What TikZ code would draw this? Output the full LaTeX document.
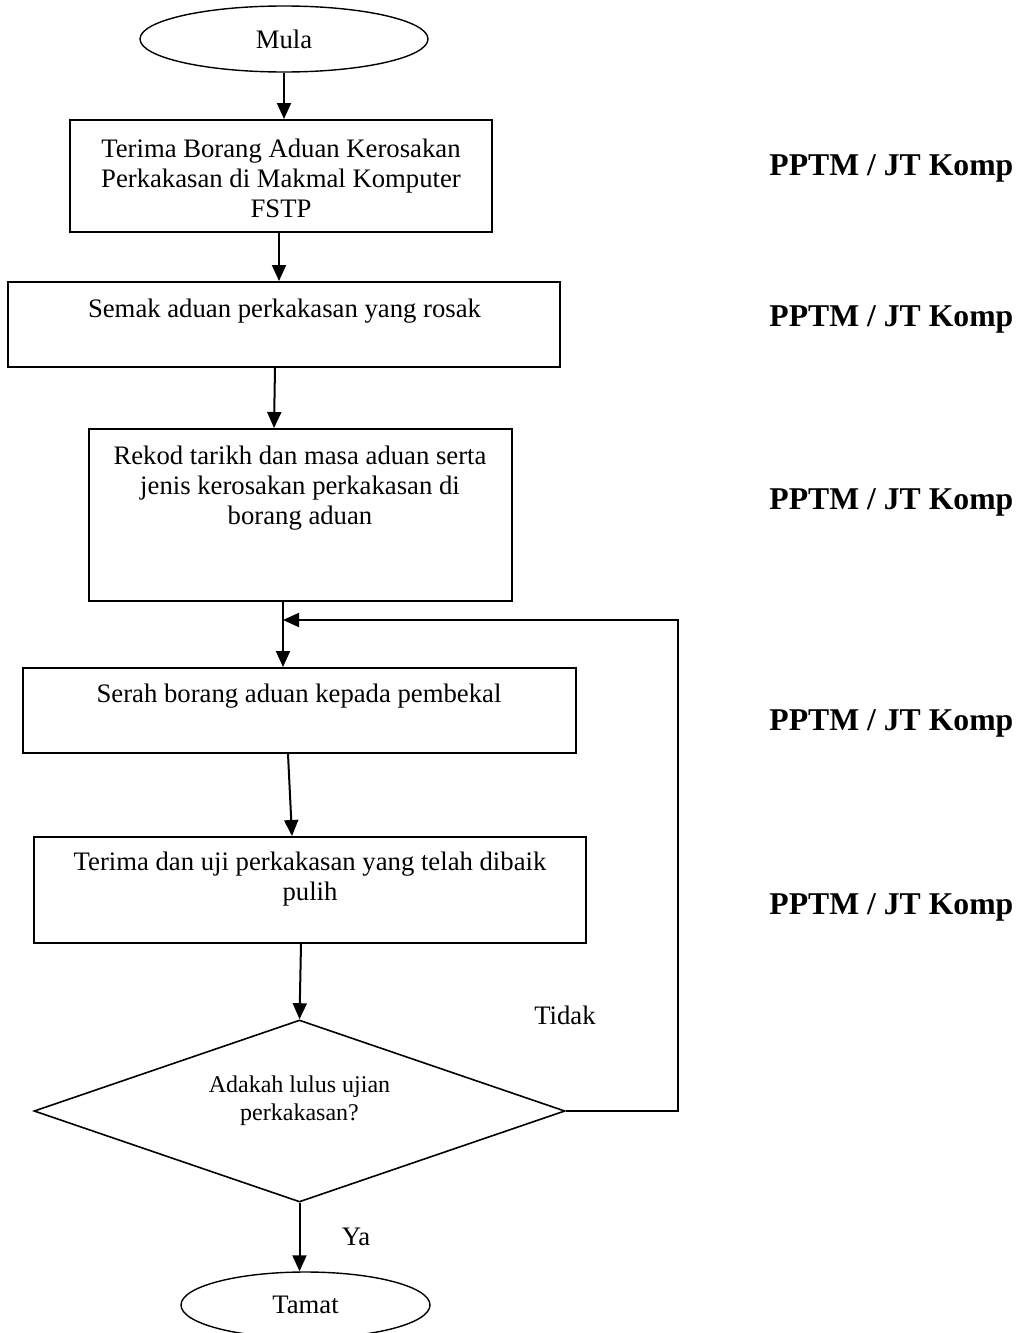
\documentclass[tikz,border=0pt]{standalone}
\usepackage{fontspec}
\setmainfont{Liberation Serif}
\usetikzlibrary{arrows.meta,shapes.geometric}

\begin{document}
\begin{tikzpicture}[x=0.5pt, y=-0.5pt,
    term/.style={ellipse, draw, line width=0.7pt, inner sep=0pt, font=\fontsize{13.35}{15}\selectfont},
    box/.style={rectangle, draw, line width=1pt, inner sep=0pt},
    decision/.style={diamond, draw, line width=0.8pt, inner sep=0pt},
    txt/.style={align=center, inner sep=0pt, font=\fontsize{13.35}{15}\selectfont},
    small/.style={align=center, inner sep=0pt, font=\fontsize{12}{14}\selectfont},
    who/.style={anchor=base west, inner sep=0pt, font=\fontsize{15.85}{18}\selectfont\bfseries},
    arrow/.style={-{Triangle[length=8pt, width=7pt]}, line width=1pt}
  ]
  \useasboundingbox (0,0) rectangle (1017,1333);

  % carta alir
  \node[term, minimum width=144pt, minimum height=33pt] (mula) at (284,39) {Mula};
  \node[box, minimum width=211pt, minimum height=56pt] (b1) at (281,176) {};
  \node[box, minimum width=276pt, minimum height=42.5pt] (b2) at (284,324.5) {};
  \node[box, minimum width=211.5pt, minimum height=86pt] (b3) at (300.5,515) {};
  \node[box, minimum width=276.5pt, minimum height=42.5pt] (b4) at (299.5,710.5) {};
  \node[box, minimum width=276pt, minimum height=53pt] (b5) at (310,890) {};
  \node[decision, minimum width=265.5pt, minimum height=91pt] (dec) at (299.5,1111) {};
  \node[term, minimum width=124.5pt, minimum height=33pt] (tamat) at (305.5,1305) {Tamat};

  % teks dalam kotak
  \node[txt] (t1) at (281,178) {Terima Borang Aduan Kerosakan\\Perkakasan di Makmal Komputer\\FSTP};
  \node[txt] (t2) at (284.5,311) {Semak aduan perkakasan yang rosak};
  \node[txt] (t3) at (300,488) {Rekod tarikh dan masa aduan serta\\jenis kerosakan perkakasan di\\borang aduan};
  \node[txt] (t4) at (299,696) {Serah borang aduan kepada pembekal};
  \node[txt] (t5) at (310,879) {Terima dan uji perkakasan yang telah dibaik\\pulih};
  \node[small] (td) at (299.5,1101) {Adakah lulus ujian\\perkakasan?};

  % anak panah
  \draw[arrow] (mula.south) -- (mula.south |- b1.north);
  \draw[arrow] ([xshift=-1pt]b1.south) -- ([xshift=-1pt]b1.south |- b2.north);
  \draw[arrow] ([xshift=-4.5pt]b2.south) -- ([xshift=-13.25pt]b3.north);
  \draw[arrow] ([xshift=-8.75pt]b3.south) -- ([xshift=-8.25pt]b4.north);
  \draw[arrow] ([xshift=-5.75pt]b4.south) -- ([xshift=-9pt]b5.north);
  \draw[arrow] ([xshift=-4.5pt]b5.south) -- (dec.north);
  \draw[arrow] (dec.south) -- (dec.south |- tamat.north);

  % gelung Tidak
  \coordinate (sudut) at (678,620);
  \coordinate (masuk) at (283,620);
  \draw[arrow] (dec.east) -| (sudut) -- (masuk);

  \node[txt] (tidak) at (565,1015) {Tidak};
  \node[txt] (ya) at (356,1237) {Ya};

  % pegawai
  \node[who] (p1) at (769,175) {PPTM / JT Komp};
  \node[who] (p2) at (769,326) {PPTM / JT Komp};
  \node[who] (p3) at (769,509) {PPTM / JT Komp};
  \node[who] (p4) at (769,730) {PPTM / JT Komp};
  \node[who] (p5) at (769,914) {PPTM / JT Komp};
\end{tikzpicture}
\end{document}
